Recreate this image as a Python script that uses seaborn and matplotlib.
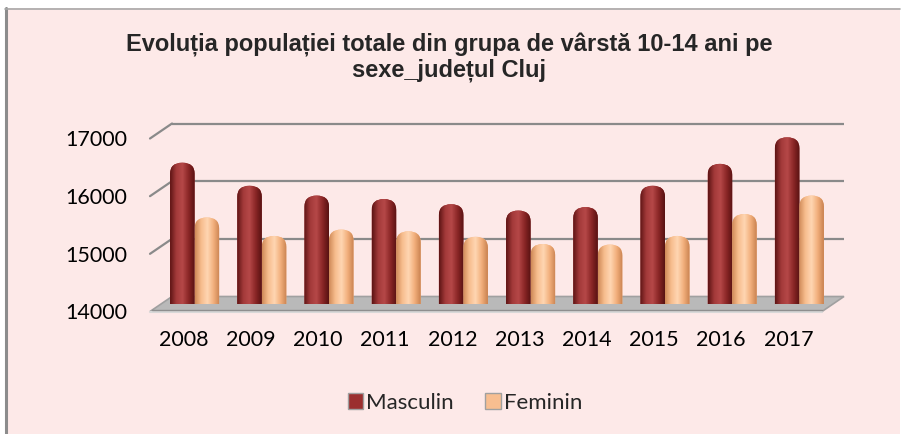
import matplotlib
matplotlib.use('Agg')
import matplotlib.pyplot as plt
import numpy as np
import pandas as pd
import seaborn as sns
from matplotlib.patches import FancyBboxPatch, Rectangle, Polygon, Patch
from matplotlib.transforms import ScaledTranslation
from matplotlib.colors import to_rgb

# data
years = ['2008', '2009', '2010', '2011', '2012', '2013', '2014', '2015', '2016', '2017']
masculin = [16450, 16050, 15880, 15820, 15730, 15620, 15680, 16050, 16430, 16890]
feminin = [15500, 15180, 15290, 15260, 15165, 15040, 15030, 15180, 15560, 15880]
yticks = [14000, 15000, 16000, 17000]
title = 'Evoluția populației totale din grupa de vârstă 10-14 ani pe\nsexe_județul Cluj'

df = pd.DataFrame({'An': years * 2,
                   'Populatie': masculin + feminin,
                   'Sex': ['Masculin'] * len(years) + ['Feminin'] * len(years)})

W, H = 901, 434
BG = '#FDE9E8'
palette = {'Masculin': '#9B2F2F', 'Feminin': '#F8BE90'}
grad = {'Masculin': ['#5E1414', '#A33A3A', '#B54848', '#8A2626', '#581212'],
        'Feminin': ['#CF8A58', '#F7BD8E', '#FFD6B2', '#F2AF7C', '#C98250']}

sns.set_theme(style='white')
plt.rcParams['font.family'] = ['Lato', 'DejaVu Sans']

fig = plt.figure(figsize=(W / 100, H / 100), dpi=100)
fig.patch.set_facecolor('white')

# background axes in pixel coordinates for the panel and 3D decoration
bg = fig.add_axes([0, 0, 1, 1], zorder=0)
bg.set_xlim(0, W)
bg.set_ylim(H, 0)
bg.axis('off')
bg.add_patch(Rectangle((5, 8), 895, 426, facecolor=BG, edgecolor='none'))
top_band = np.linspace(1, 0, 12).reshape(-1, 1)
bg.imshow(np.dstack([np.ones((12, 1, 3)), top_band[..., None]]), extent=(7, 900, 20, 8),
          aspect='auto', interpolation='bilinear')
bot = np.zeros((10, 1, 4))
bot[..., :3] = to_rgb('#9E8C8E')
bot[..., 3] = np.linspace(0, 0.8, 10).reshape(-1, 1)
bg.imshow(bot, extent=(5, 900, 434, 424), aspect='auto', interpolation='bilinear')
bg.plot([6, 6], [8, 434], color='#8C8C8C', lw=2.2)
bg.plot([5, 900], [8.5, 8.5], color='#A8A8A8', lw=1.2)
bg.set_xlim(0, W)
bg.set_ylim(H, 0)

# main axes = middle depth plane of the 3D chart
ax = fig.add_axes([161 / W, 130 / H, 672 / W, 173 / H], zorder=1)
ax.set_facecolor('none')
sns.barplot(data=df, x='An', y='Populatie', hue='Sex', palette=palette,
            width=0.73, ax=ax, legend=False)
ax.set_ylim(14000, 17000)
ax.set_xlim(-0.5, len(years) - 0.5)
for s in ax.spines.values():
    s.set_visible(False)
ax.set_xlabel('')
ax.set_ylabel('')
ax.set_yticks(yticks)
ax.set_yticklabels([str(v) for v in yticks])
ax.tick_params(axis='both', length=0, labelsize=15.5, labelcolor='black')
ax.tick_params(axis='y', pad=24.5)
ax.tick_params(axis='x', pad=19)
for lab in ax.get_yticklabels():
    lab.set_transform(lab.get_transform() + ScaledTranslation(0, -7.5 / 100, fig.dpi_scale_trans))
for lab in ax.get_xticklabels():
    lab.set_transform(lab.get_transform() + ScaledTranslation(-11 / 100, 0, fig.dpi_scale_trans))

# convert data coordinates of the main axes to background pixels
def to_px(x, y):
    d = ax.transData.transform((x, y))
    return bg.transData.inverted().transform(d)

dx, dy = 11, 7.5
xl, _ = to_px(-0.5, 14000)
xr, _ = to_px(len(years) - 0.5, 14000)
for v in yticks[1:]:
    _, yv = to_px(0, v)
    bg.plot([xl + dx, xr + dx], [yv - dy, yv - dy], color='#8A8A8A', lw=1.6, solid_capstyle='butt')
    bg.plot([xl - dx, xl + dx], [yv + dy, yv - dy], color='#8A8A8A', lw=1.6)
_, y0 = to_px(0, yticks[0])
bg.add_patch(Polygon([(xl - dx, y0 + dy), (xr - dx, y0 + dy), (xr + dx, y0 - dy), (xl + dx, y0 - dy)],
                     closed=True, facecolor='#B9B9B9', edgecolor='#A0A0A0', lw=1.2))
bg.plot([xl - dx, xr - dx], [y0 + dy + 0.5, y0 + dy + 0.5], color='#D8D8D8', lw=1.5)
bg.plot([xl - dx + 2, xr - dx], [y0 + dy - 1.5, y0 + dy - 1.5], color='#8E8E8E', lw=1)

# cylinder look: rounded tops and a horizontal shading
sexes = ['Masculin', 'Feminin']
rects = [p for p in ax.patches if isinstance(p, Rectangle)]
for i, p in enumerate(rects):
    sex = sexes[i // len(years)]
    x, y, w, h = p.get_x(), p.get_y(), p.get_width(), p.get_height()
    p.set_visible(False)
    r = 0.18
    cyl = FancyBboxPatch((x, y), w, h, boxstyle=f'round,pad=0,rounding_size={r}',
                         mutation_aspect=1050, facecolor=palette[sex], edgecolor='none', zorder=2)
    ax.add_patch(cyl)
    cols = np.array([to_rgb(c) for c in grad[sex]])
    t = np.linspace(0, 1, 64)
    pos = np.linspace(0, 1, len(cols))
    img = np.stack([np.interp(t, pos, cols[:, k]) for k in range(3)], axis=-1)[None, :, :]
    im = ax.imshow(img, extent=(x, x + w, y, y + h), aspect='auto', interpolation='bilinear', zorder=3)
    im.set_clip_path(cyl)
ax.set_ylim(14000, 17000)
ax.set_xlim(-0.5, len(years) - 0.5)

fig.text(449 / W, 1 - 57.5 / H, title, ha='center', va='center', fontsize=17, fontweight='bold',
         family=['Liberation Sans', 'DejaVu Sans'], linespacing=1.06)

handles = [Patch(facecolor=palette[s], edgecolor='#A0A0A0', label=s) for s in sexes]
fig.legend(handles=handles, loc='center', bbox_to_anchor=(465 / W, 1 - 403 / H), ncol=2,
           frameon=False, fontsize=16, handlelength=0.7, handleheight=0.7,
           handletextpad=0.15, columnspacing=1.4)

fig.savefig('out.png', dpi=100, facecolor=fig.get_facecolor())
